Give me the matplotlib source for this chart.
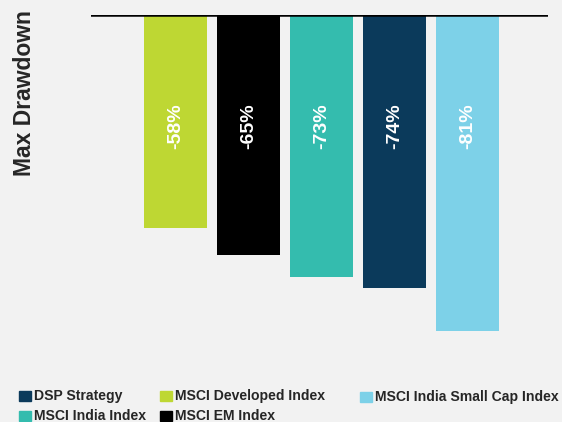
import matplotlib.pyplot as plt
from matplotlib.patches import Rectangle

plt.rcParams['font.family'] = ['Liberation Sans', 'DejaVu Sans']

# bar order left to right
series = ['MSCI Developed Index', 'MSCI EM Index', 'MSCI India Index',
          'DSP Strategy', 'MSCI India Small Cap Index']
bar_heights = [-54.6, -61.5, -67.2, -70.0, -81.0]   # drawn depth
bar_labels = ['-58%', '-65%', '-73%', '-74%', '-81%']
colors = ['#bed733', '#000000', '#34bcae', '#0b3a5b', '#7dd1e8']

# legend layout: (series, x px, y px of patch centre)
legend_items = [('DSP Strategy', 19, 396), ('MSCI Developed Index', 160, 396),
                ('MSCI India Small Cap Index', 360, 397),
                ('MSCI India Index', 19, 416), ('MSCI EM Index', 160, 416)]

bg = '#f2f2f2'
W, H = 562, 422
fig = plt.figure(figsize=(W / 100, H / 100), dpi=100, facecolor=bg)
ax = fig.add_axes([91 / W, 1 - 370 / H, (548 - 91) / W, (370 - 15) / H])
ax.set_facecolor(bg)

x = list(range(len(series)))
ax.bar(x, bar_heights, width=0.86, color=colors, zorder=2)
for xi, lab in zip(x, bar_labels):
    ax.text(xi, -28.5, lab, rotation=90, ha='center', va='center',
            color='white', fontsize=14, fontweight='bold', zorder=3)

ax.axhline(0, color='black', lw=1.8, zorder=4)
ax.set_xlim(-1.16, 5.1)
ax.set_ylim(-91, 0)
ax.axis('off')

fig.text(25 / W, 1 - 93 / H, 'Max Drawdown', rotation=90, ha='center',
         va='center', fontsize=16.5, fontweight='bold', color='#262626')

for name, px, py in legend_items:
    c = colors[series.index(name)]
    fig.patches.append(Rectangle((px / W, 1 - (py + 5) / H), 12 / W, 10 / H,
                                 transform=fig.transFigure, color=c))
    fig.text((px + 15) / W, 1 - py / H, name, ha='left', va='center',
             fontsize=10.1, fontweight='bold', color='#262626')

fig.savefig('out.png', dpi=100, facecolor=bg)
